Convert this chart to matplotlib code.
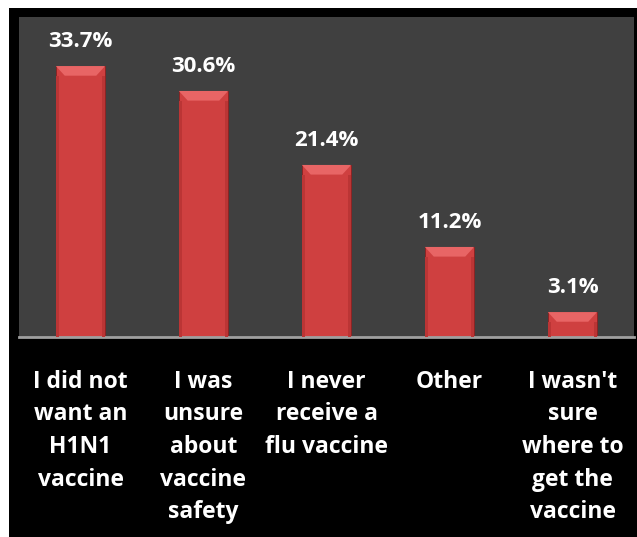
import matplotlib
matplotlib.use('Agg')
import matplotlib.pyplot as plt
from matplotlib.patches import Rectangle, Polygon

categories = ['I did not\nwant an\nH1N1\nvaccine',
              'I was\nunsure\nabout\nvaccine\nsafety',
              'I never\nreceive a\nflu vaccine',
              'Other',
              "I wasn't\nsure\nwhere to\nget the\nvaccine"]
values = [33.7, 30.6, 21.4, 11.2, 3.1]
value_labels = ['33.7%', '30.6%', '21.4%', '11.2%', '3.1%']

plt.rcParams['font.family'] = ['Open Sans', 'DejaVu Sans']

W, H = 637, 537
fig = plt.figure(figsize=(W / 100, H / 100), dpi=100)
fig.patch.set_facecolor('white')

# black frame behind everything
fig.patches.append(Rectangle((9 / W, 0), 1 - 9 / W, 1 - 8 / H,
                             transform=fig.transFigure, facecolor='black',
                             edgecolor='none', zorder=-10))

ax = fig.add_axes([19 / W, 1 - 337 / H, 615 / W, 320 / H])
ax.set_facecolor('#404040')
ax.set_xlim(-0.5, len(values) - 0.5)
ax.set_ylim(0, 39.8)

x = list(range(len(values)))
width = 0.4
bars = ax.bar(x, values, width=width, color='#cf4040',
              edgecolor='#8a2020', linewidth=0.6, zorder=2)

# bevel on top of each bar, soft darker sides
bevel = 1.2
for b in bars:
    x0 = b.get_x()
    w = b.get_width()
    x1 = x0 + w
    h = b.get_height()
    d = w * 0.18
    ax.add_patch(Polygon([(x0, h), (x1, h), (x1 - d, h - bevel), (x0 + d, h - bevel)],
                         closed=True, facecolor='#e86565', edgecolor='none', zorder=3))
    ax.add_patch(Rectangle((x0, 0), w * 0.07, h - bevel,
                           facecolor='#bb3535', edgecolor='none', zorder=3))
    ax.add_patch(Rectangle((x1 - w * 0.07, 0), w * 0.07, h - bevel,
                           facecolor='#bb3535', edgecolor='none', zorder=3))

for xi, v, lab in zip(x, values, value_labels):
    ax.annotate(lab, (xi, v), xytext=(0, 10), textcoords='offset points',
                ha='center', va='bottom', color='white', fontsize=16,
                fontweight='bold')

for s in ['top', 'right', 'left']:
    ax.spines[s].set_visible(False)
ax.spines['bottom'].set_color('#a0a0a0')
ax.spines['bottom'].set_linewidth(2)
ax.set_yticks([])
ax.set_xticks([])

for xi, cat in zip(x, categories):
    ax.text(xi, -0.102, cat, transform=ax.get_xaxis_transform(),
            ha='center', va='top', color='white', fontsize=16.5,
            fontweight='bold', linespacing=1.48)

fig.savefig('out.png', dpi=100, facecolor=fig.get_facecolor())
